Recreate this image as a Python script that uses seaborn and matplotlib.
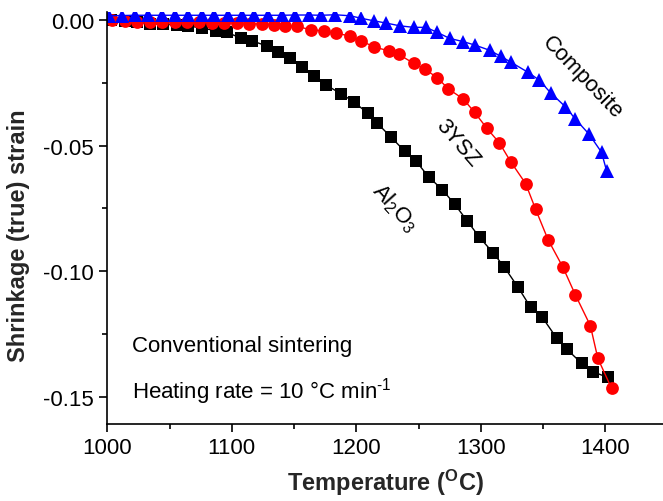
import matplotlib
matplotlib.use("Agg")
import matplotlib.pyplot as plt
from matplotlib.ticker import MultipleLocator, FormatStrFormatter
import pandas as pd
import seaborn as sns

# Dilatometry: true shrinkage strain vs. temperature, heating at 10 °C/min
al2o3_T = [1003, 1014, 1024, 1034, 1045, 1056, 1065, 1076, 1087, 1096, 1107, 1116,
           1128, 1137, 1147, 1156, 1166, 1176, 1188, 1198, 1209, 1217, 1228, 1239,
           1248, 1258, 1269, 1279, 1289, 1299, 1310, 1319, 1330, 1340, 1349, 1361,
           1369, 1381, 1390, 1402]
al2o3_strain = [0.0000, -0.0004, -0.0009, -0.0016, -0.0017, -0.0021, -0.0024, -0.0033,
                -0.0043, -0.0050, -0.0072, -0.0083, -0.0104, -0.0127, -0.0153, -0.0189,
                -0.0224, -0.0260, -0.0295, -0.0326, -0.0371, -0.0412, -0.0467, -0.0523,
                -0.0562, -0.0624, -0.0675, -0.0733, -0.0799, -0.0865, -0.0927, -0.0984,
                -0.1064, -0.1143, -0.1180, -0.1266, -0.1309, -0.1366, -0.1399, -0.1422]

ysz_T = [1004, 1014, 1024, 1034, 1044, 1054, 1064, 1074, 1084, 1094, 1104, 1114,
         1124, 1134, 1143, 1152, 1164, 1174, 1184, 1195, 1204, 1214, 1226, 1234,
         1246, 1255, 1265, 1274, 1286, 1295, 1305, 1315, 1324, 1336, 1344, 1354,
         1366, 1376, 1388, 1394, 1405]
ysz_strain = [0.0000, -0.0005, -0.0007, -0.0008, -0.0008, -0.0009, -0.0009, -0.0010,
              -0.0011, -0.0012, -0.0013, -0.0015, -0.0017, -0.0020, -0.0024, -0.0026,
              -0.0040, -0.0044, -0.0054, -0.0064, -0.0083, -0.0108, -0.0123, -0.0137,
              -0.0173, -0.0196, -0.0230, -0.0275, -0.0315, -0.0368, -0.0432, -0.0490,
              -0.0564, -0.0651, -0.0753, -0.0874, -0.0984, -0.1094, -0.1216, -0.1346,
              -0.1465]

comp_T = [1001, 1012, 1022, 1033, 1044, 1054, 1065, 1076, 1086, 1097, 1108, 1118,
          1129, 1140, 1151, 1162, 1172, 1183, 1195, 1204, 1214, 1224, 1235, 1246,
          1256, 1265, 1275, 1286, 1295, 1307, 1316, 1324, 1338, 1347, 1356, 1368,
          1376, 1387, 1397, 1401]
comp_strain = [0.0016, 0.0017, 0.0018, 0.0018, 0.0018, 0.0018, 0.0018, 0.0018,
               0.0018, 0.0018, 0.0018, 0.0018, 0.0018, 0.0018, 0.0019, 0.0019,
               0.0018, 0.0020, 0.0016, 0.0006, -0.0004, -0.0013, -0.0024, -0.0030,
               -0.0030, -0.0050, -0.0074, -0.0087, -0.0100, -0.0121, -0.0145, -0.0168,
               -0.0209, -0.0240, -0.0290, -0.0346, -0.0395, -0.0455, -0.0527, -0.0600]

x_ticks = [1000, 1100, 1200, 1300, 1400]
y_ticks = [0.00, -0.05, -0.10, -0.15]

df = pd.concat([
    pd.DataFrame({"T": al2o3_T, "strain": al2o3_strain, "material": "Al2O3"}),
    pd.DataFrame({"T": ysz_T, "strain": ysz_strain, "material": "3YSZ"}),
    pd.DataFrame({"T": comp_T, "strain": comp_strain, "material": "Composite"}),
], ignore_index=True)

sns.set_style("ticks")
plt.rcParams.update({
    "font.family": ["Liberation Sans", "DejaVu Sans"],
    "mathtext.fontset": "custom",
    "mathtext.rm": "Liberation Sans",
    "mathtext.it": "Liberation Sans:italic",
    "mathtext.bf": "Liberation Sans:bold",
    "axes.unicode_minus": False,
    "axes.linewidth": 1.2,
    "axes.edgecolor": "black",
    "text.color": "black",
    "xtick.color": "black",
    "ytick.color": "black",
})

W, H = 663, 502
fig = plt.figure(figsize=(W / 100, H / 100), dpi=100)
left_px, bottom_px, top_px = 107.3, 77, 13
ax = fig.add_axes([left_px / W, bottom_px / H, (W - left_px) / W,
                   (H - bottom_px - top_px) / H])

styles = {
    "Al2O3": dict(color="black", marker="s", markersize=8.6),
    "3YSZ": dict(color="#ff0000", marker="o", markersize=9.2),
    "Composite": dict(color="#0000ff", marker="^", markersize=9.5),
}
for name in ["Al2O3", "3YSZ", "Composite"]:
    sub = df[df["material"] == name]
    st = styles[name]
    sns.lineplot(data=sub, x="T", y="strain", ax=ax, color=st["color"],
                 marker=st["marker"], markersize=st["markersize"],
                 markeredgewidth=0, linewidth=1.0, sort=False, legend=False)

ax.set_xlim(1000, 1000 + (W - left_px) / 1.245)
ax.set_ylim(-0.1607, 0.0031)
sns.despine(ax=ax)

ax.set_xticks(x_ticks)
ax.set_yticks(y_ticks)
ax.xaxis.set_minor_locator(MultipleLocator(50))
ax.yaxis.set_minor_locator(MultipleLocator(0.025))
ax.yaxis.set_major_formatter(FormatStrFormatter("%.2f"))
ax.tick_params(which="major", direction="out", length=5.5, width=1.2,
               labelsize=16, pad=4)
ax.tick_params(which="minor", direction="out", length=3.5, width=1.2)

ax.set_xlabel("Temperature ($^\\mathbf{O}$C)", fontsize=17, fontweight="bold")
ax.set_ylabel("Shrinkage (true) strain", fontsize=17, fontweight="bold")
ax.xaxis.set_label_coords(0.5, -0.103)
ax.yaxis.set_label_coords(-0.139, 0.459)

ax.text(1381.7, -0.0228, "Composite", rotation=-46, ha="center", va="center",
        rotation_mode="anchor", fontsize=16)
ax.text(1281.7, -0.0486, "3YSZ", rotation=-49, ha="center", va="center",
        rotation_mode="anchor", fontsize=16)
ax.text(1231, -0.0745, "Al$_2$O$_3$", rotation=-48, ha="center", va="center",
        rotation_mode="anchor", fontsize=16)
ax.text(1019.6, -0.1317, "Conventional sintering", fontsize=16, va="baseline")
ax.text(1019.6, -0.1500, "Heating rate = 10 °C min$^{\\text{-}1}$", fontsize=16,
        va="baseline")

fig.savefig("out.png", dpi=100)
